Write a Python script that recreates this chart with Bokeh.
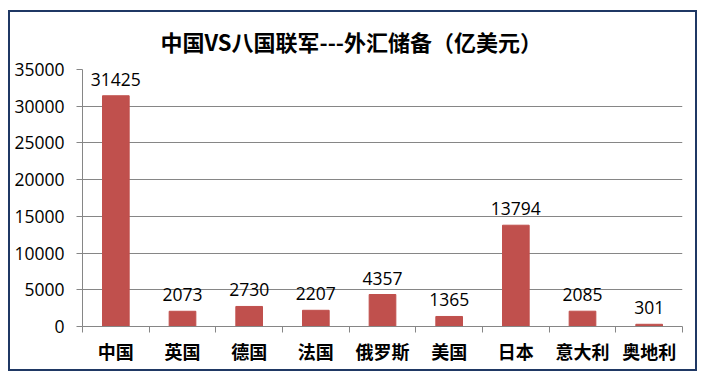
from bokeh.plotting import figure
from bokeh.models import ColumnDataSource, FixedTicker, Title, LabelSet
from bokeh.embed import file_html
from bokeh.resources import INLINE
from bokeh.core.properties import value

categories = ["中国", "英国", "德国", "法国", "俄罗斯", "美国", "日本", "意大利", "奥地利"]
reserves = [31425, 2073, 2730, 2207, 4357, 1365, 13794, 2085, 301]
y_ticks = [0, 5000, 10000, 15000, 20000, 25000, 30000, 35000]
title_text = "中国VS八国联军---外汇储备（亿美元）"

n = len(categories)
centers = [i + 0.5 for i in range(n)]
bounds = list(range(n + 1))

src = ColumnDataSource(dict(x=centers, top=reserves, label=[str(v) for v in reserves]))

p = figure(width=689, height=361, x_range=(0, n), y_range=(0, 35000),
           output_backend="svg", toolbar_location=None,
           min_border_left=72, min_border_right=17, min_border_top=57, min_border_bottom=47)
p.styles = {"border": "2px solid #1F3864", "box-sizing": "border-box",
            "margin-left": "8px", "margin-top": "10px"}
p.outline_line_color = None
p.background_fill_color = "white"
p.border_fill_color = "white"

p.title = Title(text=title_text, align="left", vertical_align="top",
                text_font_size="22px", text_font="Noto Sans CJK SC",
                text_font_style="bold", text_color="black", offset=78, standoff=22)

p.vbar(x="x", top="top", width=0.4, source=src, color="#C0504D")

labels = LabelSet(x="x", y="top", text="label", source=src, text_align="center",
                  text_baseline="bottom", y_offset=10, text_font=value("Open Sans"),
                  text_font_size="17.5px", text_color="black")
p.add_layout(labels)

grey = "#868686"
p.xgrid.visible = False
p.ygrid.grid_line_color = grey
p.ygrid.grid_line_width = 1

p.yaxis.ticker = FixedTicker(ticks=y_ticks)
p.yaxis.axis_line_color = grey
p.yaxis.major_tick_line_color = grey
p.yaxis.major_tick_out = 6
p.yaxis.major_tick_in = 0
p.yaxis.minor_tick_line_color = None
p.yaxis.major_label_text_font = "Open Sans"
p.yaxis.major_label_text_font_size = "17.5px"
p.yaxis.major_label_text_color = "black"
p.yaxis.major_label_standoff = 12

p.xaxis.ticker = FixedTicker(ticks=centers, minor_ticks=bounds)
p.xaxis.major_label_overrides = {c: cat for c, cat in zip(centers, categories)}
p.xaxis.axis_line_color = grey
p.xaxis.major_tick_line_color = None
p.xaxis.major_tick_out = 0
p.xaxis.major_tick_in = 0
p.xaxis.minor_tick_line_color = grey
p.xaxis.minor_tick_out = 6
p.xaxis.minor_tick_in = 0
p.xaxis.major_label_text_font = "Noto Sans CJK SC"
p.xaxis.major_label_text_font_style = "bold"
p.xaxis.major_label_text_font_size = "18px"
p.xaxis.major_label_text_color = "black"
p.xaxis.major_label_standoff = 5

open("out.html", "w").write(file_html(p, INLINE))
